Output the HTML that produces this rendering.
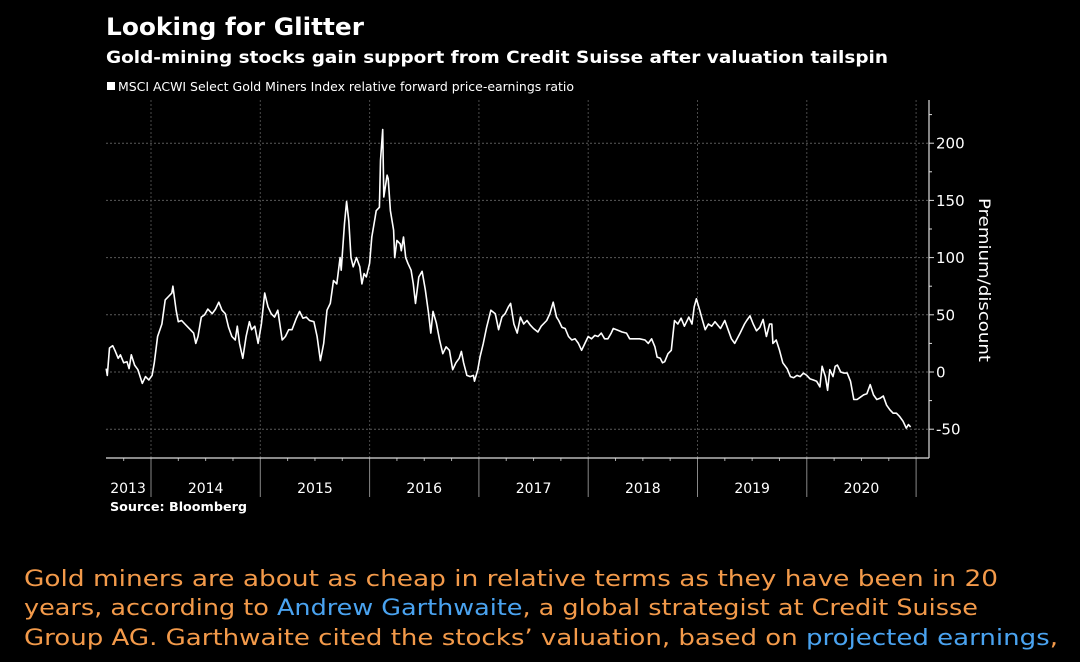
<!DOCTYPE html>
<html><head><meta charset="utf-8"><style>
html,body{margin:0;padding:0;background:#000;}
svg{display:block;}
text{font-family:"DejaVu Sans","Liberation Sans",sans-serif;}
</style></head><body>
<svg id="chart" width="1080" height="662" viewBox="0 0 1080 662" xmlns="http://www.w3.org/2000/svg">
<rect width="1080" height="662" fill="#000"/>
<text x="106" y="35" fill="#fff" font-size="24" font-weight="bold" textLength="258" lengthAdjust="spacingAndGlyphs">Looking for Glitter</text>
<text x="106" y="63" fill="#fff" font-size="17" font-weight="bold" textLength="782" lengthAdjust="spacingAndGlyphs">Gold-mining stocks gain support from Credit Suisse after valuation tailspin</text>
<rect x="107" y="82" width="8" height="8" fill="#fff"/>
<text x="118" y="91" fill="#fff" font-size="12" textLength="456" lengthAdjust="spacingAndGlyphs">MSCI ACWI Select Gold Miners Index relative forward price-earnings ratio</text>
<g id="grid"></g>
<g id="axes"></g>
<path id="line" fill="none" stroke="#fff" stroke-width="1.6" stroke-linejoin="round"/>
<text transform="translate(979,280) rotate(90)" fill="#fff" font-size="16" text-anchor="middle" textLength="164" lengthAdjust="spacingAndGlyphs">Premium/discount</text>
<text x="110" y="511" fill="#fff" font-size="12" font-weight="bold" textLength="137" lengthAdjust="spacingAndGlyphs">Source: Bloomberg</text>
<g font-size="22" fill="#f39a4a">
<text x="24" y="586" textLength="974" lengthAdjust="spacingAndGlyphs">Gold miners are about as cheap in relative terms as they have been in 20</text>
<text x="24" y="615" textLength="954" lengthAdjust="spacingAndGlyphs">years, according to <tspan fill="#4aa3f0">Andrew Garthwaite</tspan>, a global strategist at Credit Suisse</text>
<text x="24" y="645" textLength="1034" lengthAdjust="spacingAndGlyphs">Group AG. Garthwaite cited the stocks’ valuation, based on <tspan fill="#4aa3f0">projected earnings</tspan>,</text>
</g>
</svg>
<script>
const dates=[2013.59,2013.60,2013.62,2013.65,2013.67,2013.70,2013.72,2013.75,2013.78,2013.80,2013.82,2013.85,2013.88,2013.92,2013.95,2013.98,2014.01,2014.03,2014.06,2014.10,2014.13,2014.16,2014.19,2014.20,2014.23,2014.25,2014.28,2014.31,2014.34,2014.39,2014.41,2014.43,2014.46,2014.49,2014.52,2014.56,2014.59,2014.62,2014.65,2014.68,2014.71,2014.74,2014.77,2014.79,2014.81,2014.84,2014.87,2014.90,2014.92,2014.95,2014.98,2015.01,2015.04,2015.07,2015.10,2015.13,2015.16,2015.20,2015.23,2015.26,2015.29,2015.33,2015.36,2015.39,2015.42,2015.45,2015.49,2015.52,2015.55,2015.58,2015.61,2015.64,2015.67,2015.70,2015.73,2015.74,2015.77,2015.79,2015.81,2015.83,2015.85,2015.88,2015.91,2015.93,2015.95,2015.97,2016.00,2016.02,2016.05,2016.06,2016.09,2016.10,2016.12,2016.13,2016.16,2016.17,2016.19,2016.22,2016.23,2016.25,2016.28,2016.29,2016.31,2016.33,2016.35,2016.38,2016.40,2016.42,2016.45,2016.48,2016.51,2016.54,2016.56,2016.58,2016.61,2016.64,2016.67,2016.70,2016.73,2016.76,2016.79,2016.82,2016.84,2016.86,2016.89,2016.92,2016.95,2016.96,2016.99,2017.01,2017.04,2017.07,2017.11,2017.15,2017.18,2017.21,2017.24,2017.27,2017.29,2017.32,2017.35,2017.38,2017.41,2017.44,2017.47,2017.50,2017.54,2017.57,2017.62,2017.65,2017.68,2017.71,2017.73,2017.76,2017.79,2017.82,2017.85,2017.88,2017.91,2017.94,2017.97,2018.00,2018.03,2018.06,2018.09,2018.12,2018.15,2018.18,2018.21,2018.23,2018.26,2018.31,2018.35,2018.38,2018.43,2018.47,2018.52,2018.55,2018.58,2018.61,2018.63,2018.66,2018.68,2018.70,2018.73,2018.76,2018.78,2018.79,2018.82,2018.85,2018.88,2018.92,2018.95,2018.97,2018.99,2019.02,2019.04,2019.07,2019.10,2019.13,2019.16,2019.21,2019.25,2019.28,2019.31,2019.34,2019.39,2019.43,2019.45,2019.48,2019.51,2019.54,2019.57,2019.60,2019.63,2019.66,2019.68,2019.69,2019.72,2019.75,2019.78,2019.82,2019.85,2019.88,2019.91,2019.94,2019.97,2020.00,2020.03,2020.06,2020.09,2020.12,2020.14,2020.17,2020.19,2020.21,2020.24,2020.26,2020.28,2020.31,2020.34,2020.37,2020.40,2020.43,2020.46,2020.49,2020.52,2020.55,2020.58,2020.61,2020.64,2020.67,2020.70,2020.73,2020.76,2020.79,2020.82,2020.85,2020.88,2020.91,2020.93,2020.95];
const values=[3,-3,21,23,19,12,15,8,9,3,15,6,2,-10,-4,-7,-3,8,31,42,63,66,69,75,54,44,45,42,39,34,25,31,48,50,55,51,55,61,54,51,39,31,28,40,25,12,31,44,37,40,25,42,69,57,51,48,54,28,31,37,37,47,53,47,48,45,44,31,10,25,54,60,80,77,100,89,130,149,132,100,92,100,92,77,86,83,95,118,135,141,144,185,212,153,172,169,141,124,100,115,112,106,118,100,95,89,77,60,83,88,72,51,34,53,43,28,16,22,19,2,8,12,18,8,-3,-4,-3,-8,2,13,25,39,54,51,37,48,51,57,60,42,34,48,42,45,41,38,35,40,45,51,61,48,45,39,38,31,28,29,25,19,25,31,29,32,31,34,29,29,34,38,37,35,34,29,29,29,28,25,29,22,13,12,8,9,16,19,37,45,42,47,40,48,42,57,64,54,47,37,42,40,44,38,45,37,29,25,34,42,45,49,42,36,39,46,31,42,42,25,28,19,8,3,-4,-5,-3,-4,-1,-3,-6,-7,-8,-13,5,-4,-16,2,-4,5,6,0,-1,-1,-8,-24,-24,-22,-20,-19,-11,-20,-24,-23,-21,-29,-33,-36,-36,-39,-43,-49,-46,-48];
const yTicks=[-50,0,50,100,150,200];
const yMinor=[-25,25,75,125,175,225];
const yearBounds=[2014,2015,2016,2017,2018,2019,2020,2021];
const yearLabels=["2013","2014","2015","2016","2017","2018","2019","2020"];
const labelPos=[2013.79,2014.5,2015.5,2016.5,2017.5,2018.5,2019.5,2020.5];

const X0=106,X1=929,YTOP=100,YBOT=458;
function xs(t){return 151+(t-2014)*109.3;}
function ys(v){return 372-v*1.144;}
const NS="http://www.w3.org/2000/svg";
function mk(tag,attrs,parent){const e=document.createElementNS(NS,tag);for(const k in attrs)e.setAttribute(k,attrs[k]);parent.appendChild(e);return e;}
const grid=document.getElementById('grid'),axes=document.getElementById('axes');
yTicks.forEach(v=>{
  const l=mk('line',{x1:X0,x2:X1,y1:ys(v),y2:ys(v),stroke:'#5a5a5a','stroke-width':1,'stroke-dasharray':'2,2'},grid);
  
  
  const tk=mk('line',{x1:X1,x2:X1+5,y1:ys(v),y2:ys(v),stroke:'#ddd'},axes);
  
  
  const t=mk('text',{x:X1+7,y:ys(v)+5.5,fill:'#fff','font-size':15},axes);
  t.textContent=v;
  
  
});
yMinor.forEach(v=>{
  const tk=mk('line',{x1:X1,x2:X1+3,y1:ys(v),y2:ys(v),stroke:'#ddd'},axes);
  
  
});
yearBounds.forEach(y=>{
  const x=xs(y);
  const g=mk('line',{x1:x,x2:x,y1:YTOP,y2:YBOT,stroke:'#4a4a4a','stroke-dasharray':'2,2'},grid);
  
  
  const d=mk('line',{x1:x,x2:x,y1:YBOT,y2:497,stroke:'#888'},axes);
  
  
  [0.25,0.5,0.75].forEach(q=>{
    if(y+q>2021)return;
    const m=mk('line',{x1:xs(y+q),x2:xs(y+q),y1:YBOT,y2:YBOT+3,stroke:'#aaa'},axes);
    
    
  });
});
[2013.75].forEach(q=>{const m=mk('line',{x1:xs(q),x2:xs(q),y1:YBOT,y2:YBOT+3,stroke:'#aaa'},axes);
  
  });
yearLabels.forEach((s,i)=>{
  const t=mk('text',{x:xs(labelPos[i]),y:493,fill:'#fff','font-size':14,'text-anchor':'middle'},axes);
  t.textContent=s;
  
  
});
const ax=mk('line',{x1:X0,x2:X1,y1:YBOT,y2:YBOT,stroke:'#ddd','stroke-width':1.2},axes);


const ay=mk('line',{x1:X1,x2:X1,y1:YTOP,y2:YBOT,stroke:'#ddd','stroke-width':1.2},axes);


document.getElementById('line').setAttribute('d',dates.map((t,i)=>(i?'L':'M')+xs(t).toFixed(1)+','+ys(values[i]).toFixed(1)).join(''));
</script>
</body></html>
